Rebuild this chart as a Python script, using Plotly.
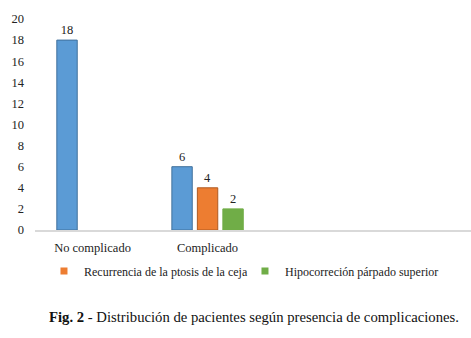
import plotly.graph_objects as go

# Patient counts by complication status
categories = ["No complicado", "Complicado", " ", "  "]
total_patients = [18, 6, None, None]
brow_ptosis_recurrence = [None, 4, None, None]
upper_lid_undercorrection = [None, 2, None, None]

series_names = ["Total", "Recurrencia de la ptosis de la ceja", "Hipocorreción párpado superior"]
y_ticks = [0, 2, 4, 6, 8, 10, 12, 14, 16, 18, 20]

SERIF = "Liberation Serif"
fills = ["#5B9BD5", "#ED7D31", "#70AD47"]
edges = ["#41719C", "#AE5A21", "#70AD47"]

fig = go.Figure()
for name, vals, fc, ec, show in zip(series_names,
                                    [total_patients, brow_ptosis_recurrence, upper_lid_undercorrection],
                                    fills, edges, [False, True, True]):
    fig.add_trace(go.Bar(
        x=categories, y=vals, name=name,
        marker=dict(color=fc, line=dict(color=ec, width=1)),
        texttemplate="%{y}", textposition="outside",
        textfont=dict(family=SERIF, size=12.5, color="#222"),
        cliponaxis=False, showlegend=False,
    ))
    if show:
        # small square swatch for the legend
        fig.add_trace(go.Scatter(
            x=[None], y=[None], mode="markers", name=name,
            marker=dict(symbol="square", size=7, color=fc),
        ))

fig.update_layout(
    width=471, height=338,
    margin=dict(l=35, r=0, t=19, b=108),
    paper_bgcolor="white", plot_bgcolor="white",
    barmode="group", bargap=0.335, bargroupgap=0.2,
    font=dict(family=SERIF, size=12, color="#222"),
    showlegend=True,
    legend=dict(orientation="h", x=0.0206, y=-0.126, xanchor="left", yanchor="top",
                font=dict(family=SERIF, size=12, color="#222"),
                itemwidth=30, entrywidth=156, entrywidthmode="pixels",
                bgcolor="rgba(0,0,0,0)"),
    xaxis=dict(type="category", range=[-0.5, 3.29], showgrid=False,
               showline=True, linecolor="#d9d9d9", linewidth=1.5,
               ticks="", ticklabelstandoff=5, tickfont=dict(family=SERIF, size=12.5)),
    yaxis=dict(range=[0, 20], tickvals=y_ticks, showgrid=False, zeroline=False,
               showline=False, ticks="", ticklabelstandoff=10, tickfont=dict(family=SERIF, size=12.5)),
    annotations=[dict(
        text="<b>Fig. 2</b> - Distribución de pacientes según presencia de complicaciones.",
        xref="paper", yref="paper", x=0.502, y=-0.412,
        xanchor="center", yanchor="middle", showarrow=False,
        font=dict(family=SERIF, size=14.7, color="#111"),
    )],
)

fig.write_html("out.html")
